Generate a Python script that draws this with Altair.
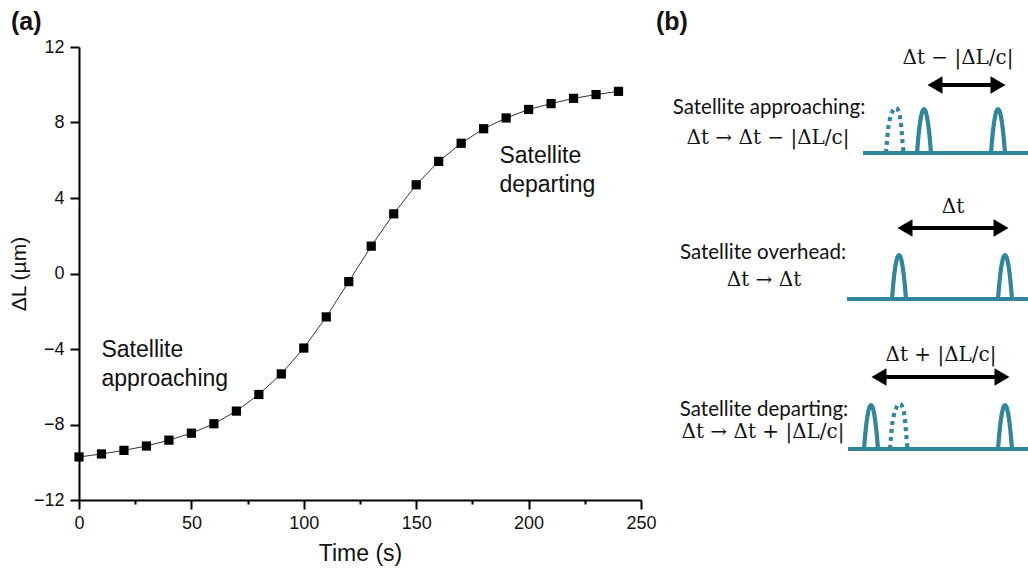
import altair as alt
import pandas as pd

# ---------------- panel (a) data ----------------
time_s = [0, 10, 20, 30, 40, 50, 60, 70, 80, 90, 100, 110, 120,
          130, 140, 150, 160, 170, 180, 190, 200, 210, 220, 230, 240]
delta_L = [-9.72, -9.56, -9.37, -9.14, -8.83, -8.46, -7.96, -7.29, -6.41,
           -5.32, -3.95, -2.30, -0.43, 1.45, 3.16, 4.70, 5.94, 6.90, 7.67,
           8.24, 8.69, 9.00, 9.28, 9.48, 9.65]

ann_text = ["Satellite\napproaching", "Satellite\ndeparting"]
ann_x = [10, 187]
ann_y = [-4.42, 5.88]

x_ticks = [0, 25, 50, 75, 100, 125, 150, 175, 200, 225, 250]
y_ticks = [-12, -10, -8, -6, -4, -2, 0, 2, 4, 6, 8, 10, 12]

# ---------------- panel (b) data (schematic units = page pixels) ----------------
teal = "#31859c"
row_base_y = [153, 299, 449]
row_base_x0 = [863, 847, 848]
row_base_x1 = [1030, 1030, 1030]
solid_pulse_row = [0, 0, 1, 1, 2, 2]
solid_pulse_x = [924, 998, 899, 1005, 871, 1005]
dotted_pulse_row = [0, 2]
dotted_pulse_x = [896, 900]
# pulse outline (offset from pulse centre, height above baseline)
pulse_dx = [-7, -6.5, -6, -5, -4, -3, -2, -1, 0, 1, 2, 3, 4, 5, 6, 6.5, 7]
pulse_dy = [0, 6, 12, 22, 30, 36, 40.5, 43, 44, 43, 40.5, 36, 30, 22, 12, 6, 0]
# ghost (dotted) pulse outline, slightly lopsided as in the drawing
ghost_dx = [-10, -9, -8, -6.5, -5, -3, -1, 1, 3, 4.5, 5.5, 6.5, 7.5]
ghost_dy = [0, 12, 23, 32, 38, 42.5, 45, 44.5, 40, 33, 23, 11, 0]

arrow_x0 = [928, 898, 872]
arrow_x1 = [1005, 1008, 1009]
arrow_y = [85, 228, 377]
arrow_text = ["Δt − |ΔL/c|", "Δt", "Δt + |ΔL/c|"]
arrow_text_x = [958, 953, 941]
arrow_text_y = [58, 207, 355]

state_text = ["Satellite approaching:", "Satellite overhead:", "Satellite departing:"]
state_x = [769, 763, 764]
state_y = [108, 253, 410]
formula_text = ["Δt → Δt − |ΔL/c|", "Δt → Δt", "Δt → Δt + |ΔL/c|"]
formula_x = [768, 764, 763]
formula_y = [138, 280, 432]

# ---------------- panel (a) ----------------
df = pd.DataFrame({"t": time_s, "dL": delta_L})
df_ann = pd.DataFrame({"text": ann_text, "x": ann_x, "y": ann_y})

x_enc = alt.X(
    "t:Q",
    scale=alt.Scale(domain=[0, 250], nice=False),
    axis=alt.Axis(
        values=x_ticks,
        labelExpr="datum.value % 50 === 0 ? datum.label : ''",
        tickSize={"condition": {"test": "datum.value % 50 === 0", "value": 9}, "value": 4},
        title="Time (s)",
        titleFontSize=23,
        titlePadding=10,
        labelFlush=False,
        labelOverlap=False,
        labelPadding=5,
    ),
)
y_enc = alt.Y(
    "dL:Q",
    scale=alt.Scale(domain=[-12, 12], nice=False),
    axis=alt.Axis(
        values=y_ticks,
        labelExpr="datum.value % 4 === 0 ? datum.label : ''",
        tickSize={"condition": {"test": "datum.value % 4 === 0", "value": 9}, "value": 4},
        title="ΔL (µm)",
        titleFontSize=21,
        titlePadding=4,
        labelFlush=False,
        labelOverlap=False,
        labelPadding=6,
    ),
)

base = alt.Chart(df)
line = base.mark_line(color="black", strokeWidth=0.8).encode(x=x_enc, y=y_enc)
pts = base.mark_point(shape="square", filled=True, size=85, color="black", opacity=1).encode(
    x="t:Q", y="dL:Q"
)
ann = alt.Chart(df_ann).mark_text(
    align="left", baseline="alphabetic", fontSize=23, lineBreak="\n", lineHeight=29,
    font="Liberation Sans", color="#111"
).encode(x="x:Q", y="y:Q", text="text:N")
tag_a = alt.Chart(pd.DataFrame({"label": ["(a)"]})).mark_text(
    align="left", baseline="alphabetic", fontSize=25, fontWeight="bold",
    font="Liberation Sans", color="#111"
).encode(x=alt.value(-68), y=alt.value(-17), text="label:N")

left = alt.layer(line, pts, ann, tag_a)

# ---------------- panel (b) ----------------
# identity mapping to page pixels: plot area spans x 79..641, y 47..500
xs = alt.Scale(domain=[79, 641], nice=False, zero=False)
ys = alt.Scale(domain=[47, 500], nice=False, zero=False, reverse=True)

base_rows = []
for i in range(3):
    base_rows.append({"id": i, "x": row_base_x0[i], "y": row_base_y[i]})
    base_rows.append({"id": i, "x": row_base_x1[i], "y": row_base_y[i]})
df_base = pd.DataFrame(base_rows)

solid_rows = []
for k, (r, cx) in enumerate(zip(solid_pulse_row, solid_pulse_x)):
    for j, (dx, dy) in enumerate(zip(pulse_dx, pulse_dy)):
        solid_rows.append({"id": k, "x": cx + dx, "y": row_base_y[r] - dy, "o": j})
df_solid = pd.DataFrame(solid_rows)

dotted_rows = []
for k, (r, cx) in enumerate(zip(dotted_pulse_row, dotted_pulse_x)):
    for j, (dx, dy) in enumerate(zip(ghost_dx, ghost_dy)):
        dotted_rows.append({"id": k, "x": cx + dx, "y": row_base_y[r] - dy, "o": j})
df_dotted = pd.DataFrame(dotted_rows)

shaft_rows = []
head_rows = []
for i in range(3):
    shaft_rows.append({"id": i, "x": arrow_x0[i] + 7, "y": arrow_y[i]})
    shaft_rows.append({"id": i, "x": arrow_x1[i] - 7, "y": arrow_y[i]})
    head_rows.append({"x": arrow_x0[i] + 7, "y": arrow_y[i], "shape": "triangle-left"})
    head_rows.append({"x": arrow_x1[i] - 7, "y": arrow_y[i], "shape": "triangle-right"})
df_shaft = pd.DataFrame(shaft_rows)
df_head = pd.DataFrame(head_rows)

X = lambda f: alt.X(f, scale=xs, axis=None)
Y = lambda f: alt.Y(f, scale=ys, axis=None)

baseline_l = alt.Chart(df_base).mark_line(color=teal, strokeWidth=4, strokeCap="butt").encode(
    x=X("x:Q"), y=Y("y:Q"), detail="id:N"
)
solid_l = alt.Chart(df_solid).mark_line(
    color=teal, strokeWidth=4.2, interpolate="monotone", strokeJoin="round"
).encode(x=X("x:Q"), y=Y("y:Q"), detail="id:N", order="o:Q")
dotted_l = alt.Chart(df_dotted).mark_line(
    color=teal, strokeWidth=4.2, interpolate="monotone", strokeDash=[4, 4]
).encode(x=X("x:Q"), y=Y("y:Q"), detail="id:N", order="o:Q")
shaft_l = alt.Chart(df_shaft).mark_line(color="black", strokeWidth=4).encode(
    x=X("x:Q"), y=Y("y:Q"), detail="id:N"
)
head_p = alt.Chart(df_head).mark_point(filled=True, color="black", size=300, opacity=1).encode(
    x=X("x:Q"), y=Y("y:Q"), shape=alt.Shape("shape:N", scale=None)
)

df_arrow_t = pd.DataFrame({"text": arrow_text, "x": arrow_text_x, "y": arrow_text_y})
df_state_t = pd.DataFrame({"text": state_text, "x": state_x, "y": state_y})
df_form_t = pd.DataFrame({"text": formula_text, "x": formula_x, "y": formula_y})

arrow_t = alt.Chart(df_arrow_t).mark_text(
    align="center", baseline="middle", fontSize=20, font="DejaVu Serif", color="#111"
).encode(x=X("x:Q"), y=Y("y:Q"), text="text:N")
state_t = alt.Chart(df_state_t).mark_text(
    align="center", baseline="middle", fontSize=20.5, font="Lato", color="#111"
).encode(x=X("x:Q"), y=Y("y:Q"), text="text:N")
form_t = alt.Chart(df_form_t).mark_text(
    align="center", baseline="middle", fontSize=20, font="DejaVu Serif", color="#111"
).encode(x=X("x:Q"), y=Y("y:Q"), text="text:N")
tag_b = alt.Chart(pd.DataFrame({"label": ["(b)"], "x": [656], "y": [30]})).mark_text(
    align="left", baseline="alphabetic", fontSize=25, fontWeight="bold",
    font="Liberation Sans", color="#111"
).encode(x=X("x:Q"), y=Y("y:Q"), text="label:N")

right = alt.layer(
    baseline_l, solid_l, dotted_l, shaft_l, head_p, arrow_t, state_t, form_t, tag_b
)

chart = alt.layer(left, right).resolve_scale(
    x="independent", y="independent"
).properties(
    width=562, height=453,
    autosize=alt.AutoSizeParams(type="none"),
    padding={"left": 79, "top": 47, "right": 387, "bottom": 73},
    background="white",
).configure_view(stroke=None).configure_axis(
    domainColor="black", domainWidth=2, tickColor="black", tickWidth=2,
    labelFont="Liberation Sans", labelFontSize=18, labelColor="#111",
    titleFont="Liberation Sans", titleFontWeight="normal", titleColor="#111",
    grid=False,
)

chart.save("out.html", embed_options={"renderer": "svg", "actions": False})
